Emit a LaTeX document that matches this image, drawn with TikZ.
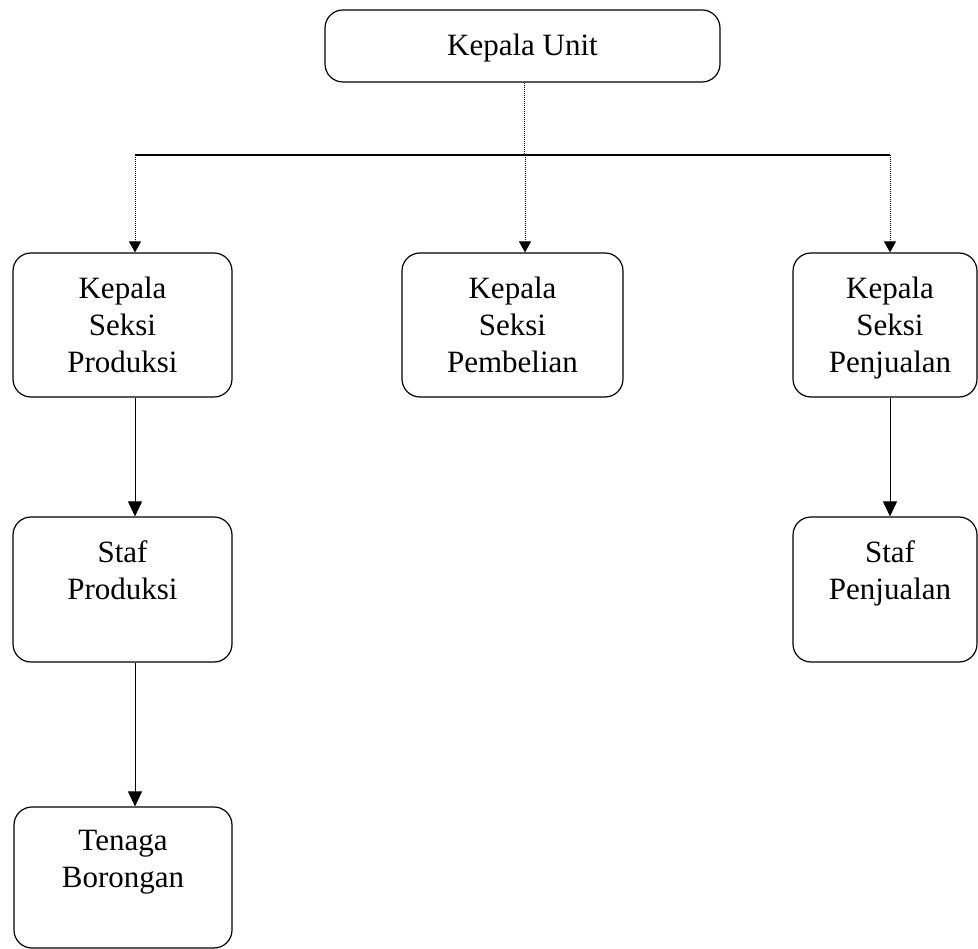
\documentclass[tikz,border=0pt]{standalone}
\usepackage{fontspec}
\setmainfont{Liberation Serif}
\usetikzlibrary{arrows.meta}
\begin{document}
\begin{tikzpicture}[x=1pt,y=-1pt,
  orgbox/.style={draw=black, line width=1.2pt, rounded corners=18pt, inner sep=0pt},
  lbl/.style={anchor=north, align=center, inner sep=0pt, font=\fontsize{31}{37}\selectfont},
  topline/.style={line width=1pt, densely dotted},
  toparrow/.style={topline, -{Triangle[length=11pt,width=12pt]}},
  downarrow/.style={line width=1pt, -{Triangle[length=15pt,width=14pt]}}
]
\useasboundingbox (0,0) rectangle (978,949);
% boxes
\node[orgbox, minimum width=395pt, minimum height=72pt] (unit) at (522.5,46) {};
\node[orgbox, minimum width=219pt, minimum height=144pt] (kp) at (122.5,325) {};
\node[orgbox, minimum width=221pt, minimum height=144pt] (kb) at (512.5,325) {};
\node[orgbox, minimum width=184pt, minimum height=144pt] (kj) at (885,325) {};
\node[orgbox, minimum width=219pt, minimum height=145pt] (sp) at (122.5,589.5) {};
\node[orgbox, minimum width=184pt, minimum height=145pt] (sj) at (885,589.5) {};
\node[orgbox, minimum width=218pt, minimum height=141pt] (tb) at (123,877.5) {};
% labels
\node[lbl] (unitt) at ([yshift=-24pt]unit.north) {Kepala Unit};
\node[lbl] (kpt) at ([yshift=-24pt]kp.north) {Kepala\\Seksi\\Produksi};
\node[lbl] (kbt) at ([yshift=-24pt]kb.north) {Kepala\\Seksi\\Pembelian};
\node[lbl] (kjt) at ([yshift=-24pt,xshift=5pt]kj.north) {Kepala\\Seksi\\Penjualan};
\node[lbl] (spt) at ([yshift=-24pt]sp.north) {Staf\\Produksi};
\node[lbl] (sjt) at ([yshift=-24pt,xshift=5pt]sj.north) {Staf\\Penjualan};
\node[lbl] (tbt) at ([yshift=-24pt]tb.north) {Tenaga\\Borongan};
% connectors
\coordinate (hub) at (524,155);
\coordinate (hl) at (135,155);
\coordinate (hm) at (525,155);
\coordinate (hr) at (890,155);
\draw[topline] (unit.south -| hub) -- (hub);
\draw[line width=1.3pt] (hl) -- (hr);
\draw[toparrow] (hl) -- (hl |- kp.north);
\draw[toparrow] (hm) -- (hm |- kb.north);
\draw[toparrow] (hr) -- (hr |- kj.north);
\draw[downarrow] (hl |- kp.south) -- (hl |- sp.north);
\draw[downarrow] (hl |- sp.south) -- (hl |- tb.north);
\draw[downarrow] (hr |- kj.south) -- (hr |- sj.north);
\end{tikzpicture}
\end{document}
